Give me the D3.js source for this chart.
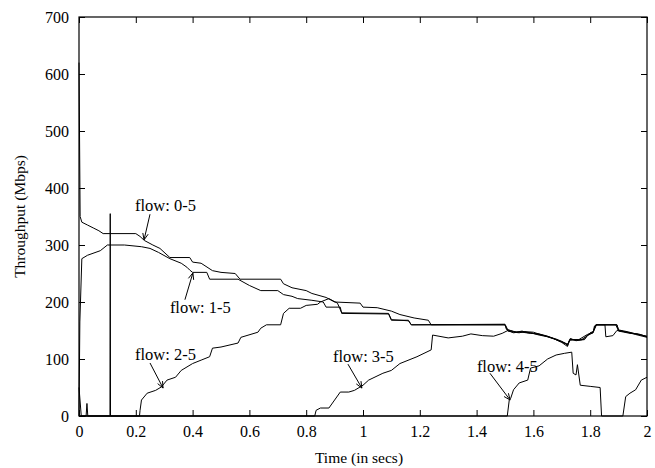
<!DOCTYPE html>
<meta charset="utf-8">
<style>
body { margin: 0; background: #fff; }
text { font-family: "Liberation Serif", "Times New Roman", Tinos, "DejaVu Serif", serif !important; }
.flow { fill: none; stroke: #000; stroke-width: 1; }
.axis text { font-size: 16px; fill: #000; }
.axis line { stroke: #000; }
.note { font-size: 16.5px; }
.title { font-size: 15.5px; }
.arrow { fill: none; stroke: #000; stroke-width: 1; }
</style>
<svg width="655" height="468"></svg>
<script src="https://cdn.jsdelivr.net/npm/d3@7"></script>
<script>

// throughput of each flow, [time (s), Mbps]
var flow05 = [[0,620],[0.004,350],[0.01,340],[0.03,335],[0.05,330],[0.07,325],[0.085,320],[0.2,320],
  [0.215,315],[0.23,308],[0.26,300],[0.285,294],[0.32,278],[0.39,278],[0.40,270],[0.43,268],[0.47,255],
  [0.5,252],[0.55,250],[0.567,240],[0.71,240],[0.72,232],[0.75,225],[0.8,220],[0.82,215],[0.87,208],
  [0.9,200],[0.99,198],[1.0,191],[1.05,190],[1.1,184],[1.13,178],[1.18,172],[1.23,168],[1.24,160],
  [1.5,160],[1.505,152],[1.52,150],[1.54,147],[1.56,149],[1.58,146],[1.6,145],[1.62,143],[1.64,141],
  [1.66,138],[1.68,135],[1.7,131],[1.715,127],[1.72,123],[1.725,131],[1.73,135],[1.74,134],[1.76,133],
  [1.78,134],[1.79,142],[1.80,145],[1.81,146],[1.815,158],[1.824,160],[1.894,160],[1.9,150],[1.92,148],
  [1.94,146],[1.96,144],[1.98,142],[2,139]];

var flow15 = [[0,0],[0.003,165],[0.01,276],[0.03,282],[0.075,290],[0.1,300],[0.16,300],[0.22,297],
  [0.25,294],[0.28,287],[0.32,276],[0.36,268],[0.38,261],[0.39,256],[0.4,252],[0.45,252],[0.46,240],
  [0.56,240],[0.6,229],[0.64,220],[0.7,220],[0.72,213],[0.75,210],[0.77,206],[0.82,203],[0.86,200],
  [0.87,191],[0.92,191],[0.925,180],[1.09,179],[1.1,168],[1.16,168],[1.17,160],[1.5,160],[1.51,149],
  [1.53,147],[1.55,146],[1.57,148],[1.6,147],[1.63,142],[1.65,139],[1.67,136],[1.7,129],[1.72,122],
  [1.73,136],[1.75,132],[1.78,135],[1.8,146],[1.81,148],[1.82,160],[1.852,160],[1.855,139],[1.88,141],
  [1.894,150],[1.91,149],[1.93,147],[1.96,143],[2,138]];

var flow25 = [[0,50],[0.008,0],[0.025,0],[0.028,22],[0.031,0],[0.109,0],[0.11,355],[0.111,0],[0.213,0],
  [0.215,10],[0.22,28],[0.24,40],[0.27,45],[0.29,51],[0.31,63],[0.34,68],[0.36,80],[0.4,92],[0.43,98],
  [0.46,104],[0.47,119],[0.5,121],[0.56,128],[0.57,138],[0.63,147],[0.64,154],[0.66,160],[0.71,160],
  [0.72,180],[0.74,189],[0.78,189],[0.8,194],[0.84,196],[0.85,200],[0.88,206],[0.91,198],[0.925,181],
  [1.09,180],[1.1,169],[1.16,167],[1.17,160],[1.5,161],[1.51,151],[1.53,148],[1.56,147],[1.59,145],
  [1.62,144],[1.65,140],[1.68,134],[1.7,130],[1.72,125],[1.728,134],[1.76,134],[1.79,143],[1.81,147],
  [1.82,160],[1.894,160],[1.9,151],[1.93,148],[1.97,143],[2,140]];

var flow35 = [[0,0],[0.83,0],[0.835,10],[0.85,14],[0.88,14],[0.9,28],[0.92,42],[0.95,42],[0.97,45],
  [1.0,54],[1.02,63],[1.07,75],[1.1,80],[1.13,92],[1.19,104],[1.24,116],[1.245,142],[1.3,137],
  [1.35,140],[1.38,144],[1.42,141],[1.46,140],[1.49,145],[1.51,150],[1.53,146],[1.56,148],[1.59,146],
  [1.62,142],[1.65,139],[1.68,134],[1.7,130],[1.72,126],[1.73,133],[1.77,134],[1.79,141],[1.81,146],
  [1.822,160],[1.89,160],[1.9,149],[1.94,145],[1.97,144],[2,139]];

var flow45 = [[0,0],[1.508,0],[1.515,28],[1.52,31],[1.53,46],[1.55,58],[1.58,63],[1.59,84],[1.62,88],
  [1.65,100],[1.68,107],[1.71,110],[1.735,112],[1.74,75],[1.75,72],[1.755,90],[1.765,54],[1.8,52],
  [1.835,50],[1.84,0],[1.915,0],[1.925,34],[1.94,40],[1.96,46],[1.98,63],[2,68]];

var xTicks = [0, 0.2, 0.4, 0.6, 0.8, 1, 1.2, 1.4, 1.6, 1.8, 2];
var yTicks = [0, 100, 200, 300, 400, 500, 600, 700];

// labels: text start point and arrow (from -> to), in data units
var notes = [
  {text: "flow: 0-5", at: [0.197, 360], from: [0.25, 354], to: [0.229, 309]},
  {text: "flow: 1-5", at: [0.32, 181], from: [0.373, 204], to: [0.401, 251]},
  {text: "flow: 2-5", at: [0.197, 98], from: [0.25, 93], to: [0.296, 49]},
  {text: "flow: 3-5", at: [0.894, 95], from: [0.947, 91], to: [0.996, 49]},
  {text: "flow: 4-5", at: [1.401, 77], from: [1.447, 75], to: [1.518, 28]}
];

var margin = {top: 17, right: 8, bottom: 52, left: 79},
    width = 655 - margin.left - margin.right,
    height = 468 - margin.top - margin.bottom;

var svg = d3.select("svg");
var g = svg.append("g").attr("transform", "translate(" + margin.left + "," + margin.top + ")");

var x = d3.scaleLinear().domain([0, 2]).range([0, width]);
var y = d3.scaleLinear().domain([0, 700]).range([height, 0]);

var fmt = function(d) { return String(+d.toFixed(1)); };

g.append("g").attr("class", "axis")
    .attr("transform", "translate(0," + height + ")")
    .call(d3.axisBottom(x).tickValues(xTicks).tickFormat(fmt).tickSizeInner(-6).tickSizeOuter(0).tickPadding(10));
g.append("g").attr("class", "axis")
    .call(d3.axisTop(x).tickValues(xTicks).tickFormat("").tickSizeInner(-6).tickSizeOuter(0));
g.append("g").attr("class", "axis")
    .call(d3.axisLeft(y).tickValues(yTicks).tickSizeInner(-6).tickSizeOuter(0).tickPadding(10));
g.append("g").attr("class", "axis")
    .attr("transform", "translate(" + width + ",0)")
    .call(d3.axisRight(y).tickValues(yTicks).tickFormat("").tickSizeInner(-6).tickSizeOuter(0));
g.selectAll(".axis").attr("font-family", null);
g.selectAll(".axis .domain").remove();

var line = d3.line().x(function(d) { return x(d[0]); }).y(function(d) { return y(d[1]); });

[flow05, flow15, flow25, flow35, flow45].forEach(function(f) {
  g.append("path").datum(f).attr("class", "flow").attr("d", line);
});

g.append("rect").attr("width", width).attr("height", height)
    .attr("fill", "none").attr("stroke", "#000").attr("stroke-width", 1.2);

notes.forEach(function(n) {
  g.append("text").attr("class", "note")
      .attr("x", x(n.at[0])).attr("y", y(n.at[1])).text(n.text);
  var x1 = x(n.from[0]), y1 = y(n.from[1]), x2 = x(n.to[0]), y2 = y(n.to[1]);
  var a = Math.atan2(y2 - y1, x2 - x1), L = 7, s = 0.4;
  g.append("path").attr("class", "arrow")
      .attr("d", "M" + x1 + "," + y1 + "L" + x2 + "," + y2 +
        "M" + (x2 - L * Math.cos(a - s)) + "," + (y2 - L * Math.sin(a - s)) +
        "L" + x2 + "," + y2 +
        "L" + (x2 - L * Math.cos(a + s)) + "," + (y2 - L * Math.sin(a + s)));
});

svg.append("text").attr("class", "title")
    .attr("x", margin.left + width / 2 - 4).attr("y", 463)
    .attr("text-anchor", "middle").text("Time (in secs)");
svg.append("text").attr("class", "title")
    .attr("transform", "translate(25," + (margin.top + height / 2) + ")rotate(-90)")
    .attr("text-anchor", "middle").text("Throughput (Mbps)");

</script>
